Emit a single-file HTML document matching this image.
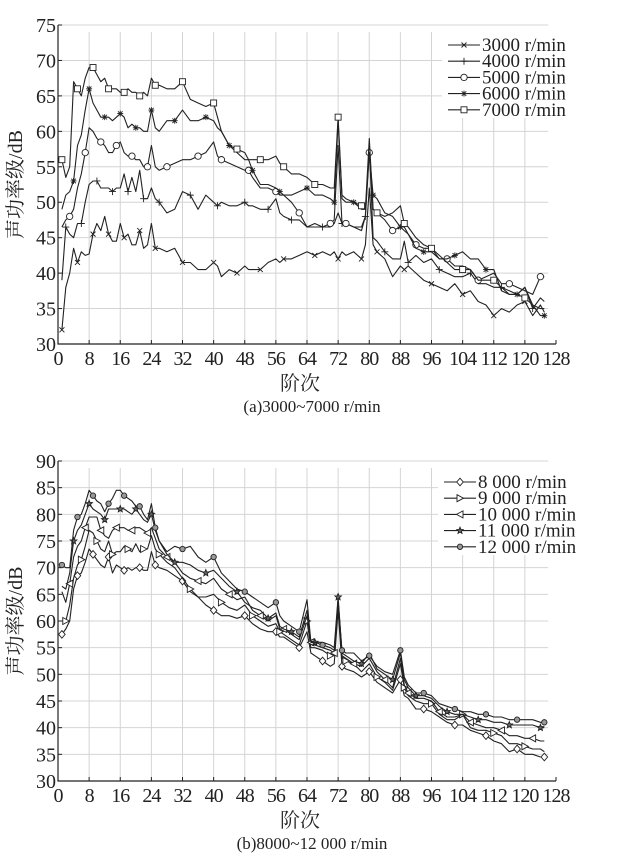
<!DOCTYPE html>
<html><head><meta charset="utf-8"><style>
html,body{margin:0;padding:0;background:#fff;}
svg{display:block;font-family:"Liberation Serif","Noto Serif CJK SC",serif;}
</style></head><body>
<svg id="fig" width="625" height="868" viewBox="0 0 625 868"></svg>
<script>
const ordersA=[1,2,3,4,5,6,7,8,9,10,11,12,13,14,15,16,17,18,19,20,21,22,23,24,25,26,28,30,32,34,36,38,40,41,42,44,46,48,49,50,52,54,56,57,58,60,62,64,66,68,70,71,72,73,74,76,78,79,80,81,82,84,86,88,89,90,92,94,96,98,100,102,104,106,108,110,112,114,116,118,120,122,124,125];
const s3000=[32,38,40,43.5,41.5,43,42.5,42.7,45.5,47,46,48,45.5,44.5,44.5,47,45,45.5,44,44,46,43.5,44,47,43.5,43.5,43,43.5,41.5,41.5,40.5,40.5,41.5,41,39.5,40.5,40,41,40.5,40.5,40.5,41.5,42,41.5,42,42,42.5,43,42.5,43,42.5,43,42,43,42.5,43,42,44,52,44,43,42,39.5,41,40.5,41,40,39,38.5,38,37.5,38.5,37,37.5,36,35.5,34,35,34.5,35.5,36,34,35.5,34.5];
const s4000=[39,46.5,45.5,45,47,47,50,52.5,53,53,52,52,52,51.5,52,52,54,51.5,53.5,51.5,54.5,50.5,50.5,52,50.5,50,48.5,49,51.5,51,49,51,50,49.5,50,49.5,49.5,50,49.5,49.5,49,49,50.5,48.5,48,47.5,47.5,46.5,46.5,46.5,46.5,47,48.5,47,47,46.5,46,48,58,45,44.5,43,42,42,44.5,41.5,42.5,41.5,42,40.5,40,39.5,39.5,40,38.5,38.5,38,38,37.5,37,38,35,36.5,36];
const s5000=[46.5,47.5,48,49,52,54,57,60.5,60,59,58.5,58,57,57,58,58.5,57,56.5,56.5,56,56,55,55,58,55,54.5,55,55.5,56,56,56.5,57,58.5,56.5,56,55.5,55,54.5,54.5,53.5,52,52,51.5,51,51,50,48.5,46.5,47,46.5,47,47.5,58,47,47,46.5,46.5,48,57,49,48.5,47.5,46,46.5,46.5,45.5,44,43.5,43.5,42,42,41,41,40.5,39,39.5,40,38.5,38.5,38,37.5,37,39.5,39.5];
const s6000=[49,51,51.5,53,58,59.5,63,66,64,63,62,62,62,61.5,62,62.5,62,60.5,61,60.5,60.5,60,60,63,60.5,60,61.5,61.5,63,61.5,61.5,62,61.5,60.5,60,58,57,56,56,54.5,52.5,52.5,52,51.5,51,51,51.5,52,51,51,50.5,50,61.5,50.5,50,50,49,49,57,51,50.5,48.5,48,46.5,46,45.5,43.5,43,43,42,42,42.5,43,42,42,40.5,40.5,37.5,37,37,38,35.5,34,34];
const s7000=[56,53.5,55,67,66,65,67.5,69,69,68,67,67.5,66,66,66,65.5,65.5,66,65.5,65.5,65,65.5,65,67.5,66.5,66.5,66,66,67,64.5,64,63.5,64,62,60,58,57.5,57,56,56,56,56,56.5,55.5,55,54,54,53.5,52.5,52.5,52,52,62,51,50.5,50,49.5,49,59,49,48.5,48,48.5,49.5,47,46.5,45,44,43.5,42.5,41.5,40.5,40.5,40.5,39,39,39,38,37,37,36.5,35.5,35,35];
const ordersB=[1,2,3,4,5,6,7,8,9,10,11,12,13,14,15,16,17,18,19,20,21,22,23,24,25,26,28,30,32,34,36,38,40,42,44,46,48,50,52,54,56,57,58,60,62,64,65,66,68,70,71,72,73,74,76,78,80,82,84,86,88,89,90,92,94,96,98,100,102,104,106,108,110,112,114,116,118,120,122,124,125];
const s8000=[57.5,58.5,60,66,68.5,69,71,73.5,72.5,71.5,70.5,70,72,69,70.5,70,69.5,70,69.5,70,70,69.5,69.5,73,70.5,70,69.5,68.5,67.5,65.5,64.5,63,62,61,61,60.5,61,59.5,58.5,58,58,57,57,56,55,58,54,53.5,52.5,51.5,52,62,51.5,51,50.5,49.5,50.5,48.5,47.5,46.5,49,46,45.5,43.5,43.5,43,42,41,40.5,40.5,39.5,39,38.5,37.5,37,35.5,36,35,35,34.5,34.5];
const s9000=[60,60,63,68,70.5,71.5,74,77,76.5,75,73.5,73,75,72.5,73,73,74,73.5,73,74.5,73,73.5,73.5,76,73.5,72.5,71,70,68,66,64.5,64.5,65,63.5,62.5,62,63,61,60,59,59.5,58,57.5,56.5,55.5,60,55,55,54.5,53.5,54,63,53,52.5,52,50.5,52,49.5,48.5,47,52,47.5,46,45,44.5,44.5,42.5,41.5,41.5,42.5,40,39.5,39.5,39,38.5,37,37,36.5,36,36,35.5];
const s10000=[65.5,63.5,67,72,74,75,77.5,79.5,79.5,79.5,77,76,75.5,77,77.5,77.5,77.5,77,77,77.5,77.5,77,76.5,77.5,75.5,73.5,72,71,69,68,67.5,67,68,66,65,64,64.5,62,61,60,61,58.5,58.5,57.5,56.5,61,56,55.5,55,54.5,54,64,53.5,53,52,51.5,53,50.5,49,47.5,53,48,46.5,45.5,45.5,45,43,42,42,42.5,41,40.5,40,40,39.5,38.5,38.5,38,38,37.5,37.5];
const s11000=[66.5,66,69,75,77,78,80,82,81,80.5,80,79,81,81,81,81,81,80.5,80,81,80,79,78.5,80,77,75,72.5,71,71,70.5,69.5,69,69.5,68,66.5,65.5,63.5,62.5,62,60.5,61.5,59,58.5,58,57,62,56,56,56,55.5,55,64.5,54,53.5,52.5,52,54,51,50,49,54,49,47.5,46,46,45.5,44,43,42.5,42.5,42,41.5,41.5,41,41,40.5,40.5,40.5,40.5,40,40];
const s12000=[70.5,70,70,77,79.5,80,82,84.5,83.5,82.5,82,80.5,82,83,84.5,84.5,83.5,83,82.5,81.5,81.5,80,79,82,77.5,75,73,74,73.5,74,72,71,72,69,67.5,66,65.5,64.5,63.5,62.5,63.5,61,60,59,58,64,56,56,55.5,55,54.5,63.5,54.5,54,54,52.5,53.5,51.5,50.5,50,54.5,49.5,48,46.5,46.5,46,44.5,44,43.5,43,43,42.5,42.5,42,42,41.5,41.5,41.5,41.5,41,41];
const xTicks=[0,8,16,24,32,40,48,56,64,72,80,88,96,104,112,120,128];
const yTicksA=[30,35,40,45,50,55,60,65,70,75];
const yTicksB=[30,35,40,45,50,55,60,65,70,75,80,85,90];
const namesA=['3000 r/min','4000 r/min','5000 r/min','6000 r/min','7000 r/min'];
const namesB=['8 000 r/min','9 000 r/min','10 000 r/min','11 000 r/min','12 000 r/min'];

const NS='http://www.w3.org/2000/svg';
const svg=document.getElementById('fig');
function mk(tag,attrs,parent){const e=document.createElementNS(NS,tag);for(const k in attrs)e.setAttribute(k,attrs[k]);(parent||svg).appendChild(e);return e;}

function marker(g,type,x,y){
  const st={stroke:'#222','stroke-width':0.9,fill:'none'};
  let e;
  if(type==='x'){e=mk('path',Object.assign({d:`M${x-2.5} ${y-2.5}L${x+2.5} ${y+2.5}M${x-2.5} ${y+2.5}L${x+2.5} ${y-2.5}`},st),g);}
  else if(type==='+'){e=mk('path',Object.assign({d:`M${x-3.5} ${y}L${x+3.5} ${y}M${x} ${y-3.5}L${x} ${y+3.5}`},st),g);}
  else if(type==='o'){e=mk('circle',Object.assign({cx:x,cy:y,r:3.2},st),g);e.setAttribute('fill','#fff');}
  else if(type==='*'){e=mk('path',Object.assign({d:`M${x-3} ${y}L${x+3} ${y}M${x} ${y-3}L${x} ${y+3}M${x-2.3} ${y-2.3}L${x+2.3} ${y+2.3}M${x-2.3} ${y+2.3}L${x+2.3} ${y-2.3}`},st),g);}
  else if(type==='s'){e=mk('rect',Object.assign({x:x-3,y:y-3,width:6,height:6},st),g);e.setAttribute('fill','#fff');}
  else if(type==='d'){e=mk('path',Object.assign({d:`M${x} ${y-3.8}L${x+3.3} ${y}L${x} ${y+3.8}L${x-3.3} ${y}Z`},st),g);e.setAttribute('fill','#fff');}
  else if(type==='>'){e=mk('path',Object.assign({d:`M${x-3} ${y-3.5}L${x+3.5} ${y}L${x-3} ${y+3.5}Z`},st),g);e.setAttribute('fill','#fff');}
  else if(type==='<'){e=mk('path',Object.assign({d:`M${x+3} ${y-3.5}L${x-3.5} ${y}L${x+3} ${y+3.5}Z`},st),g);e.setAttribute('fill','#fff');}
  else if(type==='p'){let d='';for(let i=0;i<10;i++){const r=i%2?1.5:3.4,a=-Math.PI/2+i*Math.PI/5;d+=(i?'L':'M')+(x+r*Math.cos(a)).toFixed(1)+' '+(y+r*Math.sin(a)).toFixed(1);}e=mk('path',Object.assign({d:d+'Z'},st),g);e.setAttribute('fill','#666');}
  else if(type==='h'){e=mk('circle',Object.assign({cx:x,cy:y,r:2.7},st),g);e.setAttribute('fill','#999');}
  
  
}

function chart(cfg){
  const g=mk('g',{});
  
  
  const X=v=>cfg.x0+(v-0)/(128)*(cfg.x1-cfg.x0);
  const Y=v=>cfg.yb-(v-cfg.ymin)/(cfg.ymax-cfg.ymin)*(cfg.yb-cfg.yt);
  const grid=mk('g',{stroke:'#d4d4d4','stroke-width':1},g);
  
  
  cfg.yTicks.forEach(v=>{if(v>cfg.ymin){mk('line',{x1:X(0),x2:X(126),y1:Y(v),y2:Y(v)},grid);}});
  xTicks.forEach(v=>{if(v>0&&v<128){mk('line',{x1:X(v),x2:X(v),y1:cfg.yb,y2:Y(cfg.ymax)+7},grid);}});
  const lb=mk('rect',{x:cfg.lx-6,y:cfg.ly-14,width:cfg.lw,height:cfg.lrow*5+6,fill:'#fff'},g);
  
  
  const ax=mk('path',{d:`M${X(0)} ${Y(cfg.ymax)}L${X(0)} ${cfg.yb}L${X(128)} ${cfg.yb}`,stroke:'#222',fill:'none','stroke-width':1.2},g);
  
  
  cfg.yTicks.forEach(v=>{
    mk('line',{x1:X(0),x2:X(0)+4,y1:Y(v),y2:Y(v),stroke:'#222'},g);
    const t=mk('text',{x:X(0)-2,y:Y(v)+7,'text-anchor':'end','font-size':20,fill:'#222'},g);
    t.textContent=v;
    
    
  });
  xTicks.forEach(v=>{
    mk('line',{x1:X(v),x2:X(v),y1:cfg.yb,y2:cfg.yb-4,stroke:'#222'},g);
    const t=mk('text',{x:X(v),y:cfg.yb+21,'text-anchor':'middle','font-size':20,fill:'#222','letter-spacing':'-1'},g);
    t.textContent=v;
    
    
  });
  cfg.series.forEach((s,si)=>{
    const sg=mk('g',{},g);
    
    
    const d=s.map((v,i)=>(i?'L':'M')+X(cfg.orders[i]).toFixed(1)+' '+Y(v).toFixed(1)).join('');
    const p=mk('path',{d:d,stroke:'#222','stroke-width':1.1,fill:'none','stroke-linejoin':'round'},sg);
    
    
    s.forEach((v,i)=>{if(i%4===(si%4))marker(sg,cfg.markers[si],X(cfg.orders[i]),Y(v));});
  });
  const lg=mk('g',{},g);
  
  
  cfg.names.forEach((n,i)=>{
    const yy=cfg.ly+i*cfg.lrow;
    const e=mk('g',{},lg);
    
    
    mk('line',{x1:cfg.lx,x2:cfg.lx+32,y1:yy,y2:yy,stroke:'#222','stroke-width':1.1},e);
    marker(e,cfg.markers[i],cfg.lx+16,yy);
    const t=mk('text',{x:cfg.lx+34,y:yy+6,'font-size':19,fill:'#222'},e);
    t.textContent=n;
  });
  const yt=mk('text',{x:0,y:0,'font-size':20,fill:'#222','text-anchor':'middle',transform:`translate(${cfg.x0-36},${(cfg.yt+cfg.yb)/2}) rotate(-90)`},g);
  yt.textContent='声功率级/dB';
  
  
  const xt=mk('text',{x:300,y:cfg.yb+46,'font-size':20,fill:'#222','text-anchor':'middle'},g);
  xt.textContent='阶次';
  
  
  const cp=mk('text',{x:312,y:cfg.yb+68,'font-size':17,fill:'#222','text-anchor':'middle'},g);
  cp.textContent=cfg.caption;
  
  
}

chart({name:'chart-a',x0:58,x1:556,yt:25,yb:344,ymin:30,ymax:75,yTicks:yTicksA,orders:ordersA,
  series:[s3000,s4000,s5000,s6000,s7000],markers:['x','+','o','*','s'],names:namesA,
  lx:448,ly:45,lrow:16.2,lw:124,caption:'(a)3000~7000 r/min'});
chart({name:'chart-b',x0:58,x1:556,yt:461,yb:781,ymin:30,ymax:90,yTicks:yTicksB,orders:ordersB,
  series:[s8000,s9000,s10000,s11000,s12000],markers:['d','>','<','p','h'],names:namesB,
  lx:444,ly:482,lrow:16.2,lw:150,caption:'(b)8000~12 000 r/min'});
</script>
</body></html>
